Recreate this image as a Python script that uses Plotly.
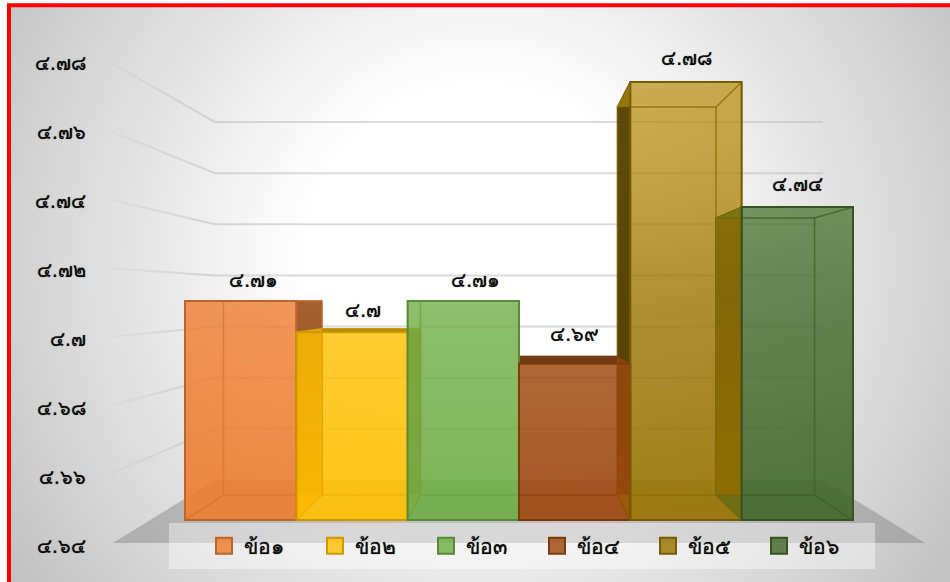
import base64, struct, zlib
import numpy as np
import plotly.graph_objects as go

# ---- data ----
categories = ["ข้อ๑", "ข้อ๒", "ข้อ๓", "ข้อ๔", "ข้อ๕", "ข้อ๖"]
values = [4.71, 4.70, 4.71, 4.69, 4.78, 4.74]
axis_ticks = [4.64, 4.66, 4.68, 4.70, 4.72, 4.74, 4.76, 4.78]
base_colors = ["#ED7D31", "#FFC000", "#70AD47", "#9E480E", "#997300", "#43682B"]
label_dx = [13, 11, 12, 0, 1, 0]
label_dy = [21, 22, 21, 30, 24, 23]

W, H = 950, 582
FONT = "DejaVu Sans"
AXIS_MIN = 4.64
DIGITS = str.maketrans("0123456789", "๐๑๒๓๔๕๖๗๘๙")
INK = "#0c0c0c"
THICK = "0 0 1px rgba(0,0,0,0.75)"


def thai(v):
    return f"{v:.2f}".rstrip("0").translate(DIGITS)


def shade(hex_color, f=1.0, a=1.0):
    r, g, b = (min(255, int(hex_color[i:i + 2], 16) * f) for i in (1, 3, 5))
    return f"rgba({r:.0f},{g:.0f},{b:.0f},{a})"


# ---- scales: category units on x, chart values on y ----
X0, XU = 185.0, 111.33            # px of bar 0 left edge, px per category
Y0, YU = 520.0, 3129.0            # px of AXIS_MIN on the front plane, px per value unit
xr = [(0 - X0) / XU, (W - X0) / XU]
yr = [AXIS_MIN + (Y0 - H) / YU, AXIS_MIN + Y0 / YU]
LY0, LYU = 546.0, 3450.0          # value-axis label scale
y2r = [AXIS_MIN + (LY0 - H) / LYU, AXIS_MIN + LY0 / LYU]
VP = 3.0                          # vanishing column (category units)


def px_to_x(p):
    return (p - X0) / XU


def px_to_y(p):
    return AXIS_MIN + (Y0 - p) / YU


def px_to_y2(p):
    return AXIS_MIN + (LY0 - p) / LYU


def back_x(x):
    return VP + (x - VP) * 0.885


def back_y(v):
    return px_to_y(495 - (v - AXIS_MIN) * 2771)


# ---- page background ----
yy, xx = np.mgrid[0:H, 0:W]
r = np.hypot(xx - 480, yy - 260)
bg = 255 - np.clip((r - 180) / 350, 0, 1.3) * 55
bg[(xx < 9) | (yy < 5)] = 255
img = bg.astype(np.uint8)
raw = b"".join(b"\x00" + row.tobytes() for row in img)


def chunk(t, d):
    return struct.pack(">I", len(d)) + t + d + struct.pack(">I", zlib.crc32(t + d))


png = (b"\x89PNG\r\n\x1a\n" + chunk(b"IHDR", struct.pack(">IIBBBBB", W, H, 8, 0, 0, 0, 0))
       + chunk(b"IDAT", zlib.compress(raw, 9)) + chunk(b"IEND", b""))
bg_uri = "data:image/png;base64," + base64.b64encode(png).decode()

fig = go.Figure()


def poly(xs, ys, line, lw=1.5, fill=None, gradient=None, yaxis="y3"):
    kw = dict(fillcolor=fill) if fill else dict(fillgradient=gradient)
    fig.add_trace(go.Scatter(x=xs + xs[:1], y=ys + ys[:1], yaxis=yaxis, mode="lines", fill="toself",
                             line=dict(color=line, width=lw),
                             showlegend=False, hoverinfo="skip", **kw))


# floor
poly([px_to_x(p) for p in (215, 823, 925, 113)],
     [px_to_y(p) for p in (480, 480, 543, 543)],
     "rgba(0,0,0,0)", 0, fill="rgba(120,120,120,0.4)", yaxis="y")

# wall gridlines: axis trace on the label scale, fading toward the left
FADE = 8
for k in range(FADE):
    xs, ys = [], []
    for t in axis_ticks[1:]:
        yb = px_to_y2(480 - (t - AXIS_MIN) * 2557)
        yl = px_to_y2(543 - (t - AXIS_MIN) * 3435)
        xl, xb = px_to_x(110), px_to_x(215)
        f0, f1 = k / FADE, (k + 1) / FADE
        xs += [xl + (xb - xl) * f0, xl + (xb - xl) * f1, None]
        ys += [yl + (yb - yl) * f0, yl + (yb - yl) * f1, None]
    fig.add_trace(go.Scatter(x=xs, y=ys, yaxis="y2", mode="lines",
                             line=dict(color=f"rgba(190,190,190,{0.06 + 0.5 * (k + 1) / FADE:.2f})", width=2),
                             showlegend=False, hoverinfo="skip"))
xs, ys = [], []
for t in axis_ticks[1:]:
    yb = px_to_y2(480 - (t - AXIS_MIN) * 2557)
    xs += [px_to_x(215), px_to_x(823), None]
    ys += [yb, yb, None]
fig.add_trace(go.Scatter(x=xs, y=ys, yaxis="y2", mode="lines",
                         line=dict(color="rgba(190,190,190,0.56)", width=2),
                         showlegend=False, hoverinfo="skip"))

# bar faces behind the front plane
FRONT_A = 0.45


def behind_alpha(total):
    return round(1 - (1 - total) / (1 - FRONT_A), 3)


def gradient_for(c):
    return dict(type="vertical", start=px_to_y(520), stop=px_to_y(82),
                colorscale=[[0, shade(c, 1, behind_alpha(0.91))],
                            [0.502, shade(c, 1, behind_alpha(0.79))],
                            [1, shade(c, 1.55, behind_alpha(0.67))]])


# back faces first
for i, (v, c) in enumerate(zip(values, base_colors)):
    bl, br = back_x(float(i)), back_x(float(i + 1))
    b0, bt = back_y(AXIS_MIN), back_y(v)
    poly([bl, br, br, bl], [b0, b0, bt, bt], shade(c, 0.85, 0.5), gradient=gradient_for(c))

# then the outward (shaded) faces
for i, (v, c) in enumerate(zip(values, base_colors)):
    fl, fr = float(i), float(i + 1)
    bl, br = back_x(fl), back_x(fr)
    b0, bt = back_y(AXIS_MIN), back_y(v)
    dark = shade(c, 0.6, 0.8) if i <= VP else shade(c, 0.5, 0.9)
    dark_edge = shade(c, 0.8, 0.95)
    if bt > v:
        poly([fl, fr, br, bl], [v, v, bt, bt], dark_edge, fill=dark)
    if br > fr:
        poly([fr, br, br, fr], [AXIS_MIN, b0, bt, v], dark_edge, fill=dark)
    if bl < fl:
        poly([fl, bl, bl, fl], [AXIS_MIN, b0, bt, v], dark_edge, fill=dark)

# then the inward faces, seen through the front
for i, (v, c) in enumerate(zip(values, base_colors)):
    fl, fr = float(i), float(i + 1)
    bl, br = back_x(fl), back_x(fr)
    b0, bt = back_y(AXIS_MIN), back_y(v)
    g = gradient_for(c)
    edge = shade(c, 0.85, 0.5)
    poly([fl, fr, br, bl], [AXIS_MIN, AXIS_MIN, b0, b0], edge, gradient=g)
    if bl > fl:
        poly([fl, bl, bl, fl], [AXIS_MIN, b0, bt, v], edge, gradient=g)
    if br < fr:
        poly([fr, br, br, fr], [AXIS_MIN, b0, bt, v], edge, gradient=g)
    if bt < v:
        poly([fl, fr, br, bl], [v, v, bt, bt], edge, gradient=g)

# legend keys
for name, c in zip(categories, base_colors):
    fig.add_trace(go.Scatter(x=[None], y=[None], mode="markers", name=name,
                             marker=dict(symbol="square", size=16, color=shade(c, 1, 0.82),
                                         line=dict(color=shade(c, 0.8), width=2))))

# front faces: real bars above everything else
fig.add_trace(go.Bar(x=[i + 0.5 for i in range(len(values))],
                     y=[v - AXIS_MIN for v in values], base=AXIS_MIN, width=1,
                     xaxis="x2", yaxis="y4", showlegend=False,
                     customdata=values, hovertemplate="%{customdata}<extra></extra>",
                     marker=dict(color=[shade(c, 1, FRONT_A) for c in base_colors],
                                 line=dict(color=[shade(c, 0.8) for c in base_colors], width=2))))

annotations = [dict(x=i + 0.5, y=v, xref="x", yref="y", text=thai(v), showarrow=False,
                    xshift=label_dx[i], yshift=label_dy[i],
                    font=dict(family=FONT, size=20, color=INK, shadow=THICK))
               for i, v in enumerate(values)]

fig.update_layout(
    width=W, height=H, margin=dict(l=0, r=0, t=0, b=0),
    paper_bgcolor="white", plot_bgcolor="rgba(0,0,0,0)",
    font=dict(family=FONT, color=INK),
    xaxis=dict(range=xr, visible=False, domain=[0, 1]),
    xaxis2=dict(range=xr, visible=False, overlaying="x"),
    yaxis=dict(range=yr, visible=False, domain=[0, 1]),
    yaxis3=dict(range=yr, visible=False, overlaying="y"),
    yaxis4=dict(range=yr, visible=False, overlaying="y", anchor="x2"),
    yaxis2=dict(range=y2r, overlaying="y", anchor="free", position=86 / W, side="left",
                tickmode="array", tickvals=axis_ticks, ticktext=[thai(t) for t in axis_ticks],
                showgrid=False, zeroline=False, showline=False, ticks="",
                tickfont=dict(family=FONT, size=20, color=INK, shadow=THICK)),
    images=[dict(source=bg_uri, xref="paper", yref="paper", x=0, y=1, sizex=1, sizey=1,
                 sizing="stretch", xanchor="left", yanchor="top", layer="below")],
    shapes=[
        dict(type="rect", xref="paper", yref="paper", x0=169 / W, x1=875 / W,
             y0=1 - 569 / H, y1=1 - 523 / H, fillcolor="rgba(255,255,255,0.4)", line=dict(width=0)),
        dict(type="rect", xref="paper", yref="paper", x0=9 / W, x1=1.1,
             y0=-0.1, y1=1 - 5.3 / H, line=dict(color="#FF0000", width=4)),
    ],
    annotations=annotations,
    showlegend=True,
    legend=dict(orientation="h", x=210 / W, xanchor="left", y=1 - 546 / H, yanchor="middle",
                bgcolor="rgba(0,0,0,0)", entrywidth=72, entrywidthmode="pixels", itemwidth=30,
                indentation=-6,
                font=dict(family=FONT, size=21, color=INK, shadow=THICK), traceorder="normal"),
    hovermode="closest",
)

fig.write_html("out.html", config={"displayModeBar": False},
               post_script="document.body.style.margin='0';document.body.style.overflow='hidden';")
